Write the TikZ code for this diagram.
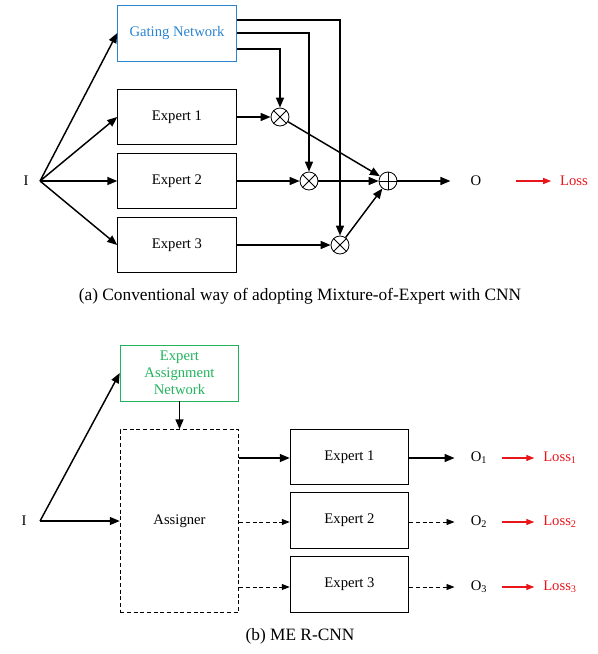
\documentclass[tikz,border=0pt]{standalone}
\usepackage{fontspec}
\setmainfont{Liberation Serif}
\usepackage{xcolor}
\usepackage{tikz}
\usetikzlibrary{arrows.meta, positioning, calc}
\definecolor{gateblue}{HTML}{2B84D0}
\definecolor{assigngreen}{HTML}{22B35E}
\definecolor{lossred}{HTML}{E8151B}
\tikzstyle{expbox} = [rectangle, minimum width=89pt, minimum height=41.5pt,
  text centered, draw=black, line width=0.6pt, font=\fontsize{11}{13}\selectfont]
\tikzstyle{gatebox} = [expbox, draw=gateblue, text=gateblue, minimum height=42pt]
\tikzstyle{eanbox} = [expbox, draw=assigngreen, text=assigngreen, minimum height=42pt,
  align=center, font=\fontsize{11}{12.8}\selectfont]
\tikzstyle{asgbox} = [expbox, dashed, dash pattern=on 3pt off 2pt, minimum height=137pt]
\tikzstyle{opnode} = [circle, draw=black, line width=0.6pt, minimum size=13.5pt, inner sep=0pt]
\tikzstyle{lbl} = [font=\fontsize{11}{13}\selectfont, inner sep=3pt]
\tikzstyle{arrow} = [line width=1.1pt, -{Triangle[length=7.5pt,width=6pt]}]
\tikzstyle{darrow} = [line width=0.6pt, dashed, dash pattern=on 3pt off 2pt, -{Triangle[length=6pt,width=4.5pt]}]
\tikzstyle{larrow} = [line width=0.8pt, lossred, -{Triangle[length=6pt,width=4.5pt]}]
\tikzstyle{caption} = [font=\fontsize{13}{15}\selectfont]

\begin{document}
\begin{tikzpicture}[x=0.75pt, y=-0.75pt]
  \useasboundingbox (0,0) rectangle (598,654);

  % === (a) CONVENTIONAL MIXTURE-OF-EXPERT ===
  \node (in) [lbl, inner xsep=8.5pt] at (26,181) {I};
  \node (gate) [gatebox] at (177,33) {Gating Network};
  \node (e1) [expbox] at (177,117) {Expert 1};
  \node (e2) [expbox] at (177,181) {Expert 2};
  \node (e3) [expbox] at (177,245) {Expert 3};

  \node (m1) [opnode] at (280,117) {};
  \node (m2) [opnode] at (309,181) {};
  \node (m3) [opnode] at (340,245) {};
  \node (sum) [opnode] at (388,181) {};
  \foreach \m in {m1,m2,m3}
    \draw[line width=0.6pt] (\m.45) -- (\m.225) (\m.135) -- (\m.315);
  \draw[line width=0.6pt] (sum.north) -- (sum.south) (sum.west) -- (sum.east);

  \node (out) [lbl] at (476,181) {O};
  \node (loss) [lbl, text=lossred] at (574,181) {Loss};

  \node (capa) [caption] at (300,296)
    {(a) Conventional way of adopting Mixture-of-Expert with CNN};

  % arrows
  \draw[arrow] (in.east) -- (gate.west);
  \draw[arrow] (in.east) -- (e1.west);
  \draw[arrow] (in.east) -- (e2.west);
  \draw[arrow] (in.east) -- (e3.west);
  \draw[arrow] ([yshift=9.75pt]gate.east) -| (m3);
  \draw[arrow] (gate.east) -| (m2);
  \draw[arrow] ([yshift=-12pt]gate.east) -| (m1);
  \draw[arrow] (e1) -- (m1);
  \draw[arrow] (e2) -- (m2);
  \draw[arrow] (e3) -- (m3);
  \draw[arrow] (m1) -- (sum);
  \draw[arrow] (m2) -- (sum);
  \draw[arrow] (m3) -- (sum);
  \draw[arrow, shorten >=12pt] (sum) -- (out);
  \draw[larrow, shorten <=23pt, shorten >=3.5pt] (out) -- (loss);

  % === (b) ME R-CNN ===
  \node (in2) [lbl, inner xsep=10pt] at (24,521) {I};
  \node (ean) [eanbox] at (179.5,373) {Expert\\Assignment\\Network};
  \node (asg) [asgbox] at (179.5,521) {Assigner};
  \node (f1) [expbox] at (349.5,457) {Expert 1};
  \node (f2) [expbox] at (349.5,520.5) {Expert 2};
  \node (f3) [expbox] at (349.5,584.5) {Expert 3};

  \foreach \i/\y in {1/458,2/522,3/587} {
    \node (o\i) [lbl] at (479,\y) {O\textsubscript{\i}};
    \node (l\i) [lbl, text=lossred] at (560,\y) {Loss\textsubscript{\i}};
    \draw[larrow, shorten <=8pt, shorten >=3.5pt] (o\i) -- (l\i);
  }

  \node (capb) [caption] at (300,636) {(b) ME R-CNN};

  % arrows
  \draw[arrow] (in2.east) -- (ean.west);
  \draw[arrow] (in2.east) -- (asg.west);
  \draw[arrow] (ean) -- (asg);
  \draw[arrow] (asg.east |- o1) -- (f1.west |- o1);
  \draw[darrow] (asg.east |- o2) -- (f2.west |- o2);
  \draw[darrow] (asg.east |- o3) -- (f3.west |- o3);
  \draw[arrow, shorten >=9pt] (f1.east |- o1) -- (o1);
  \draw[darrow, shorten >=9pt] (f2.east |- o2) -- (o2);
  \draw[darrow, shorten >=9pt] (f3.east |- o3) -- (o3);

\end{tikzpicture}
\end{document}
